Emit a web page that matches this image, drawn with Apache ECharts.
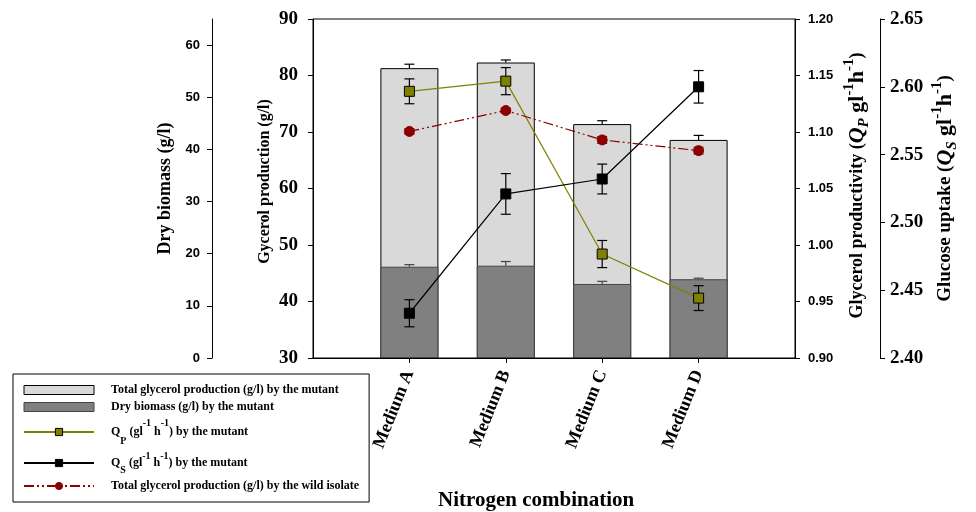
<!DOCTYPE html>
<html><head><meta charset="utf-8">
<script src="https://cdn.jsdelivr.net/npm/echarts@6/dist/echarts.min.js"></script>
<style>html,body{margin:0;padding:0;background:#fff}#c{width:976px;height:512px}</style>
</head><body><div id="c"></div>
<script>
const categories = ['Medium A', 'Medium B', 'Medium C', 'Medium D'];
const glycerolMutant = [81.3, 82.3, 71.4, 68.6];
const glycerolMutantErr = [0.7, 0.45, 0.6, 0.8];
const biomass = [17.5, 17.7, 14.2, 15.1];
const biomassErr = [0.4, 0.8, 0.5, 0.2];
const qp = [1.136, 1.145, 0.992, 0.953];
const qpErr = [0.011, 0.012, 0.012, 0.011];
const qs = [2.433, 2.521, 2.532, 2.600];
const qsErr = [0.010, 0.015, 0.011, 0.012];
const glycerolWild = [70.1, 73.8, 68.6, 66.7];
const glycerolWildErr = [0.5, 0.4, 0.6, 0.6];
const biomassTicks = [0, 10, 20, 30, 40, 50, 60];

const SERIF = '"Liberation Serif","Times New Roman",serif';
const SANS = '"Liberation Sans",Arial,sans-serif';

const N1 = 'Total glycerol production (g/l) by the mutant';
const N2 = 'Dry biomass (g/l) by the mutant';
const N3 = 'QP by the mutant';
const N4 = 'QS by the mutant';
const N5 = 'Total glycerol production (g/l) by the wild isolate';

const pts = arr => arr.map((v, i) => [i + 1, v]);
const errPts = (arr, e) => arr.map((v, i) => [i + 1, v, e[i]]);

function errSeries(name, yIdx, vals, errs, color, upperOnly, z) {
  return {
    type: 'custom', name: name, xAxisIndex: 0, yAxisIndex: yIdx, z: z,
    silent: true,
    data: errPts(vals, errs),
    renderItem: function (params, api) {
      const x = api.value(0), v = api.value(1), e = api.value(2);
      const top = api.coord([x, v + e]);
      const bot = api.coord([x, upperOnly ? v : v - e]);
      const hw = 5;
      const st = { stroke: color, lineWidth: 1.2 };
      const ch = [
        { type: 'line', shape: { x1: top[0], y1: top[1], x2: bot[0], y2: bot[1] }, style: st },
        { type: 'line', shape: { x1: top[0] - hw, y1: top[1], x2: top[0] + hw, y2: top[1] }, style: st }
      ];
      if (!upperOnly) ch.push({ type: 'line', shape: { x1: bot[0] - hw, y1: bot[1], x2: bot[0] + hw, y2: bot[1] }, style: st });
      return { type: 'group', children: ch };
    }
  };
}

const nameRich = (fs, big, sup) => ({
  n: { fontFamily: SERIF, fontWeight: 'bold', fontSize: fs, color: '#000', lineHeight: big + 8 },
  u: { fontFamily: SERIF, fontWeight: 'bold', fontSize: big, color: '#000', lineHeight: big + 8 },
  i: { fontFamily: SERIF, fontWeight: 'bold', fontStyle: 'italic', fontSize: big, color: '#000', lineHeight: big + 8 },
  isub: { fontFamily: SERIF, fontWeight: 'bold', fontStyle: 'italic', fontSize: sup, color: '#000', verticalAlign: 'bottom', lineHeight: big + 2 },
  sup: { fontFamily: SERIF, fontWeight: 'bold', fontSize: sup, color: '#000', verticalAlign: 'top', lineHeight: sup }
});

const chart = echarts.init(document.getElementById('c'));
chart.setOption({
  animation: false,
  grid: { left: 313, right: 181, top: 19, bottom: 154, show: true, borderColor: '#000', borderWidth: 1 },
  xAxis: {
    type: 'value', min: 0, max: 5, interval: 1,
    axisLine: { lineStyle: { color: '#000', width: 1 } },
    axisTick: { customValues: [1, 2, 3, 4], length: 5, lineStyle: { color: '#000' } },
    splitLine: { show: false },
    axisLabel: {
      customValues: [1, 2, 3, 4], rotate: 68, margin: 13,
      formatter: v => categories[Math.round(v) - 1] || '',
      fontFamily: SERIF, fontWeight: 'bold', fontSize: 18, color: '#000'
    }
  },
  yAxis: [
    {
      type: 'value', position: 'left', min: 30, max: 90, interval: 10,
      name: 'Gycerol production (g/l)', nameLocation: 'middle', nameRotate: 90, nameGap: 40,
      nameTextStyle: { fontFamily: SERIF, fontWeight: 'bold', fontSize: 16, color: '#000', padding: [0, 0, 0, 14] },
      axisLine: { show: true, lineStyle: { color: '#000' } },
      axisTick: { show: true, length: 5, lineStyle: { color: '#000' } },
      splitLine: { show: false },
      axisLabel: { margin: 15, fontFamily: SERIF, fontWeight: 'bold', fontSize: 19, color: '#000' }
    },
    {
      type: 'value', position: 'left', offset: 101, min: 0, max: 65,
      name: 'Dry biomass (g/l)', nameLocation: 'middle', nameRotate: 90, nameGap: 38,
      nameTextStyle: { fontFamily: SERIF, fontWeight: 'bold', fontSize: 18, color: '#000' },
      axisLine: { show: true, lineStyle: { color: '#000' } },
      axisTick: { show: true, length: 5, customValues: biomassTicks, lineStyle: { color: '#000' } },
      splitLine: { show: false },
      axisLabel: { customValues: biomassTicks, margin: 12, fontFamily: SANS, fontWeight: 'bold', fontSize: 13, color: '#000' }
    },
    {
      type: 'value', position: 'right', min: 0.9, max: 1.2, interval: 0.05,
      name: '{n|Glycerol productivity (}{i|Q}{isub|P}{u| gl}{sup|-1}{u|h}{sup|-1}{n|)}',
      nameLocation: 'middle', nameRotate: 90, nameGap: 47,
      nameTextStyle: { rich: nameRich(18, 22, 15), padding: [0, 0, 0, 6] },
      axisLine: { show: true, lineStyle: { color: '#000' } },
      axisTick: { show: true, length: 5, lineStyle: { color: '#000' } },
      splitLine: { show: false },
      axisLabel: { margin: 13, formatter: v => v.toFixed(2), fontFamily: SANS, fontWeight: 'bold', fontSize: 13, color: '#000' }
    },
    {
      type: 'value', position: 'right', offset: 85, min: 2.4, max: 2.65, interval: 0.05,
      name: '{n|Glucose uptake (}{i|Q}{isub|S}{u| gl}{sup|-1}{u|h}{sup|-1}{n|)}',
      nameLocation: 'middle', nameRotate: 90, nameGap: 50,
      nameTextStyle: { rich: nameRich(19, 22, 15) },
      axisLine: { show: true, lineStyle: { color: '#000' } },
      axisTick: { show: true, length: 5, lineStyle: { color: '#000' } },
      splitLine: { show: false },
      axisLabel: { margin: 10, formatter: v => v.toFixed(2), fontFamily: SERIF, fontWeight: 'bold', fontSize: 19, color: '#000' }
    }
  ],
  legend: {
    orient: 'vertical', left: 13, top: 374, padding: [10, 10, 10, 10], itemGap: 5,
    itemWidth: 70, itemHeight: 9, borderColor: '#000', borderWidth: 1,
    itemStyle: { borderWidth: 1 },
    data: [{ name: N1, icon: 'rect' }, { name: N2, icon: 'rect' }, N3, N4, N5],
    formatter: function (name) {
      if (name === N3) return '{t|Q}{sub|P}{t| (gl}{sup|-1}{t| h}{sup|-1}{t|) by the mutant}';
      if (name === N4) return '{t2|Q}{sub|S}{t2| (gl}{sup|-1}{t2| h}{sup|-1}{t2|) by the mutant}';
      return '{b|' + name + '}';
    },
    textStyle: {
      padding: [0, 0, 0, 12],
      rich: {
        b: { fontFamily: SERIF, fontWeight: 'bold', fontSize: 12, color: '#000', lineHeight: 14 },
        t: { fontFamily: SERIF, fontWeight: 'bold', fontSize: 12, color: '#000', lineHeight: 28 },
        t2: { fontFamily: SERIF, fontWeight: 'bold', fontSize: 12, color: '#000', lineHeight: 24 },
        sup: { fontFamily: SERIF, fontWeight: 'bold', fontSize: 10, color: '#000', verticalAlign: 'top', lineHeight: 10 },
        sub: { fontFamily: SERIF, fontWeight: 'bold', fontSize: 10, color: '#000', verticalAlign: 'bottom', lineHeight: 16 }
      }
    }
  },
  graphic: [{
    type: 'text', left: 438, top: 490,
    style: { text: 'Nitrogen combination', font: 'bold 21px "Liberation Serif", serif', fill: '#000' }
  }],
  series: [
    {
      type: 'bar', name: N1, yAxisIndex: 0, barWidth: 58, barGap: '-100%', z: 1,
      itemStyle: { color: '#d9d9d9', borderColor: '#000', borderWidth: 1 },
      data: pts(glycerolMutant)
    },
    {
      type: 'bar', name: N2, yAxisIndex: 1, barWidth: 58, barGap: '-100%', z: 1,
      itemStyle: { color: '#808080', borderColor: '#444', borderWidth: 1 },
      data: pts(biomass)
    },
    errSeries('e1', 0, glycerolMutant, glycerolMutantErr, '#000', true, 2),
    errSeries('e2', 1, biomass, biomassErr, '#444', true, 2),
    errSeries('e3', 2, qp, qpErr, '#000', false, 3),
    errSeries('e4', 3, qs, qsErr, '#000', false, 3),
    errSeries('e5', 0, glycerolWild, glycerolWildErr, '#8b0000', false, 3),
    {
      type: 'line', name: N3, yAxisIndex: 2, z: 5, symbol: 'rect', symbolSize: 10,
      lineStyle: { color: '#808000', width: 1.2 },
      itemStyle: { color: '#808000', borderColor: '#000', borderWidth: 1 },
      data: pts(qp)
    },
    {
      type: 'line', name: N4, yAxisIndex: 3, z: 5, symbol: 'rect', symbolSize: 10,
      lineStyle: { color: '#000', width: 1.2 },
      itemStyle: { color: '#000', borderColor: '#000', borderWidth: 1 },
      data: pts(qs)
    },
    {
      type: 'line', name: N5, yAxisIndex: 0, z: 5, symbol: 'circle', symbolSize: 10,
      lineStyle: { color: '#8b0000', width: 1.2, type: [10, 3, 2, 3, 2, 3] },
      itemStyle: { color: '#8b0000', borderColor: '#8b0000', borderWidth: 1 },
      data: pts(glycerolWild)
    }
  ]
});
</script></body></html>
